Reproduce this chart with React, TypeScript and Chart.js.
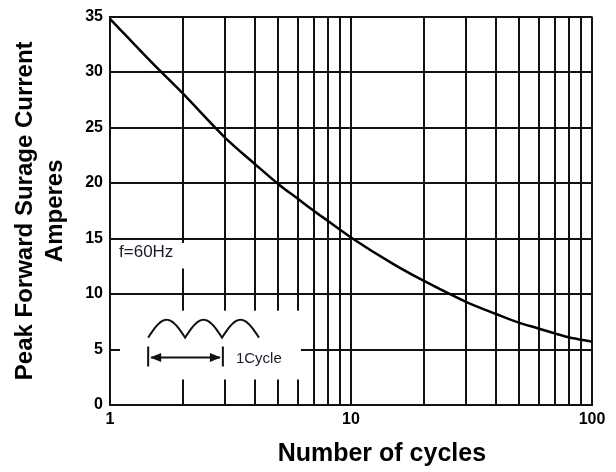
import React, { useEffect, useRef } from "react";
import { Chart, registerables } from "chart.js";

Chart.register(...registerables);

// ---- data ----
const cycles = [1, 1.5, 2, 3, 4, 5, 6, 7, 8, 10, 15, 20, 30, 40, 50, 60, 70, 80, 100];
const amperes = [34.8, 30.8, 28.1, 24.1, 21.7, 19.9, 18.6, 17.5, 16.6, 15.1, 12.7, 11.2, 9.3, 8.2, 7.4, 6.9, 6.45, 6.1, 5.7];
const xGridValues = [1, 2, 3, 4, 5, 6, 7, 8, 9, 10, 20, 30, 40, 50, 60, 70, 80, 90, 100];
const xLabelValues = [1, 10, 100];
const yMin = 0;
const yMax = 35;
const yStep = 5;
const yTitleLines = ["Peak Forward Surage Current", "Amperes"];
const xTitle = "Number of cycles";
const freqLabel = "f=60Hz";
const cycleLabel = "1Cycle";

const FONT = '"Liberation Sans", Arial, Helvetica, sans-serif';

const insetPlugin = {
  id: "inset",
  beforeDatasetsDraw(chart: any) {
    const { ctx } = chart;
    const xs = chart.scales.x;
    const ys = chart.scales.y;
    const px = (v: number) => xs.getPixelForValue(v);
    const py = (v: number) => ys.getPixelForValue(v);
    ctx.save();
    // white boxes behind annotations
    ctx.fillStyle = "#ffffff";
    ctx.fillRect(px(1.06), py(14.6), px(2.1) - px(1.06), py(12.3) - py(14.6));
    ctx.fillRect(px(1.1), py(8.5), px(6.2) - px(1.1), py(2.3) - py(8.5));

    // f=60Hz
    ctx.fillStyle = "#1a1a2a";
    ctx.font = `17px ${FONT}`;
    ctx.textBaseline = "middle";
    ctx.textAlign = "left";
    ctx.fillText(freqLabel, px(1.09), py(13.75));

    // rectified sine waveform
    const x0 = px(1.44);
    const x1 = px(4.15);
    const base = py(6.07);
    const peak = py(7.68);
    ctx.strokeStyle = "#111";
    ctx.lineWidth = 2;
    ctx.beginPath();
    const n = 90;
    for (let i = 0; i <= n; i++) {
      const t = i / n;
      const xx = x0 + t * (x1 - x0);
      const yy = base - (base - peak) * Math.abs(Math.sin(Math.PI * 3 * t));
      if (i === 0) ctx.moveTo(xx, yy);
      else ctx.lineTo(xx, yy);
    }
    ctx.stroke();

    // cycle bars and arrow
    const bx0 = px(1.44);
    const bx1 = px(2.94);
    const by0 = py(5.27);
    const by1 = py(3.48);
    const ay = py(4.29);
    ctx.beginPath();
    ctx.moveTo(bx0, by0);
    ctx.lineTo(bx0, by1);
    ctx.moveTo(bx1, by0);
    ctx.lineTo(bx1, by1);
    ctx.moveTo(bx0 + 3, ay);
    ctx.lineTo(bx1 - 3, ay);
    ctx.stroke();
    ctx.fillStyle = "#111";
    ctx.beginPath();
    ctx.moveTo(bx0 + 2, ay);
    ctx.lineTo(bx0 + 13, ay - 4.5);
    ctx.lineTo(bx0 + 13, ay + 4.5);
    ctx.closePath();
    ctx.fill();
    ctx.beginPath();
    ctx.moveTo(bx1 - 2, ay);
    ctx.lineTo(bx1 - 13, ay - 4.5);
    ctx.lineTo(bx1 - 13, ay + 4.5);
    ctx.closePath();
    ctx.fill();

    ctx.fillStyle = "#1a1a2a";
    ctx.font = `15px ${FONT}`;
    ctx.fillText(cycleLabel, px(3.33), py(4.2));
    ctx.restore();
  },
  afterDraw(chart: any) {
    const { ctx, chartArea } = chart;
    ctx.save();
    ctx.fillStyle = "#000";
    ctx.font = `bold 25px ${FONT}`;
    ctx.textAlign = "center";
    ctx.textBaseline = "middle";
    ctx.fillText(
      xTitle,
      chartArea.left + chartArea.width * 0.564,
      chartArea.bottom + 49
    );
    ctx.restore();
  },
};

export default function App() {
  const canvasRef = useRef<HTMLCanvasElement | null>(null);

  useEffect(() => {
    if (!canvasRef.current) return;
    Chart.defaults.font.family = FONT;
    const chart = new Chart(canvasRef.current, {
      type: "line",
      data: {
        datasets: [
          {
            data: cycles.map((c, i) => ({ x: c, y: amperes[i] })),
            borderColor: "#000",
            borderWidth: 2.5,
            pointRadius: 0,
            cubicInterpolationMode: "monotone",
            fill: false,
          },
        ],
      },
      options: {
        responsive: false,
        animation: false,
        layout: { padding: { top: 13, right: 24, left: 0, bottom: 0 } },
        plugins: {
          legend: { display: false },
          tooltip: { enabled: false },
        },
        scales: {
          x: {
            type: "logarithmic",
            min: 1,
            max: 100,
            afterBuildTicks: (scale: any) => {
              scale.ticks = xGridValues.map((v) => ({ value: v }));
            },
            afterFit: (scale: any) => {
              scale.height = 67;
            },
            ticks: {
              autoSkip: false,
              maxRotation: 0,
              minRotation: 0,
              padding: 5,
              color: "#000",
              font: { size: 16, weight: "bold" },
              callback: (val: any) =>
                xLabelValues.includes(Number(val)) ? String(val) : "",
            },
            grid: { color: "#111", lineWidth: 2, drawTicks: false },
            border: { color: "#111", width: 2 },
          },
          y: {
            type: "linear",
            min: yMin,
            max: yMax,
            afterFit: (scale: any) => {
              scale.width = 110;
            },
            ticks: {
              stepSize: yStep,
              padding: 7,
              color: "#000",
              font: { size: 16, weight: "bold" },
            },
            grid: { color: "#111", lineWidth: 2, drawTicks: false },
            border: { color: "#111", width: 2 },
            title: {
              display: true,
              text: yTitleLines,
              color: "#000",
              font: { size: 24, weight: "bold", lineHeight: 1.25 },
              padding: { top: 10, bottom: 0 },
            },
          },
        },
      },
      plugins: [insetPlugin],
    } as any);
    return () => chart.destroy();
  }, []);

  return (
    <div style={{ position: "fixed", left: 0, top: 0, width: 616, height: 472, background: "#fff" }}>
      <canvas ref={canvasRef} width={616} height={472} style={{ display: "block" }} />
    </div>
  );
}
